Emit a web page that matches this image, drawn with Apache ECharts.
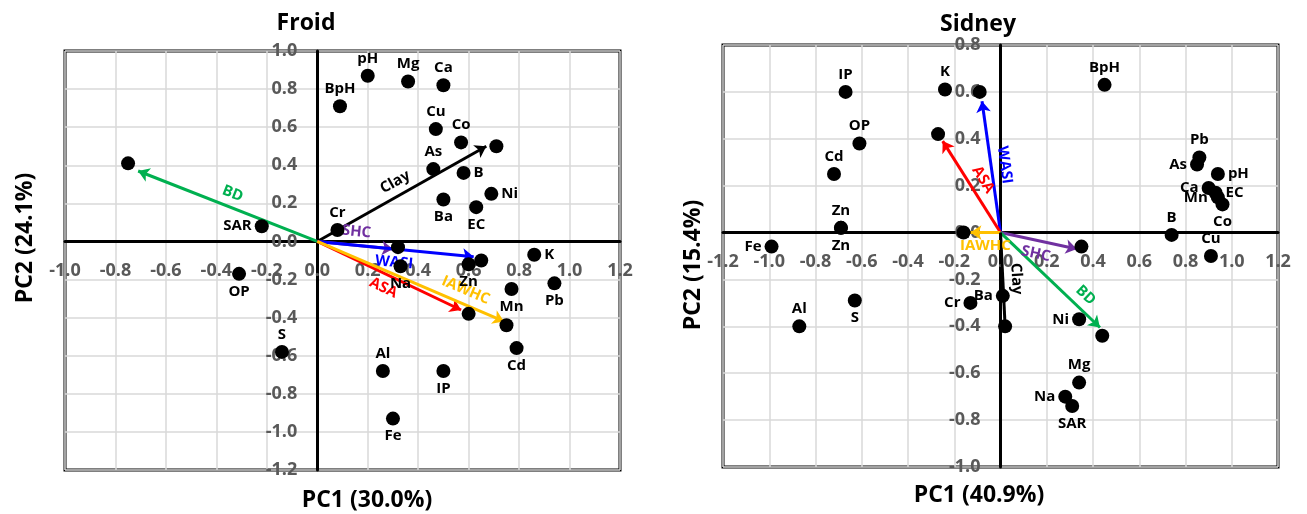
<!DOCTYPE html>
<html>
<head>
<meta charset="utf-8">
<script src="https://cdn.jsdelivr.net/npm/echarts@6/dist/echarts.min.js"></script>
<style>
  html, body { margin: 0; padding: 0; background: #fff; }
  #main { width: 1307px; height: 514px; }
</style>
</head>
<body>
<div id="main"></div>
<script>
// Froid - variable loadings (dots)
var froidNames = ['pH', 'Mg', 'Ca', 'BpH', 'Cu', 'Co', 'Clay', 'As', 'B', 'Ni', 'Ba', 'EC', 'Cr', 'SAR', 'BD',
  'SHC', 'WASI', 'Zn', 'Na', 'K', 'Mn', 'Pb', 'ASA', 'IAWHC', 'Cd', 'Al', 'IP', 'Fe', 'OP', 'S'];
var froidPC1 = [0.20, 0.36, 0.50, 0.09, 0.47, 0.57, 0.71, 0.46, 0.58, 0.69, 0.50, 0.63, 0.08, -0.22, -0.75,
  0.32, 0.65, 0.60, 0.33, 0.86, 0.77, 0.94, 0.60, 0.75, 0.79, 0.26, 0.50, 0.30, -0.31, -0.14];
var froidPC2 = [0.87, 0.84, 0.82, 0.71, 0.59, 0.52, 0.50, 0.38, 0.36, 0.25, 0.22, 0.18, 0.06, 0.08, 0.41,
  -0.03, -0.10, -0.12, -0.13, -0.07, -0.25, -0.22, -0.38, -0.44, -0.56, -0.68, -0.68, -0.93, -0.17, -0.58];

// Froid - arrows (tips)
var froidVectors = ['BD', 'Clay', 'SHC', 'WASI', 'ASA', 'IAWHC'];
var froidVecPC1 = [-0.71, 0.67, 0.30, 0.62, 0.57, 0.74];
var froidVecPC2 = [0.37, 0.50, -0.04, -0.08, -0.36, -0.42];

// Sidney - variable loadings (dots)
var sidneyNames = ['IP', 'K', 'WASI', 'OP', 'ASA', 'Cd', 'Zn', 'Zn', 'Fe', 'IAWHC', 'BpH', 'Pb', 'As', 'pH', 'Ca',
  'EC', 'Mn', 'Co', 'B', 'Cu', 'SHC', 'Al', 'S', 'Cr', 'Ba', 'Clay', 'Ni', 'BD', 'Mg', 'Na', 'SAR'];
var sidneyPC1 = [-0.67, -0.24, -0.09, -0.61, -0.27, -0.72, -0.69, -0.69, -0.99, -0.16, 0.45, 0.86, 0.85, 0.94, 0.90,
  0.93, 0.94, 0.96, 0.74, 0.91, 0.35, -0.87, -0.63, -0.13, 0.01, 0.02, 0.34, 0.44, 0.34, 0.28, 0.31];
var sidneyPC2 = [0.60, 0.61, 0.60, 0.38, 0.42, 0.25, 0.02, 0.02, -0.06, 0.00, 0.63, 0.32, 0.29, 0.25, 0.19,
  0.17, 0.15, 0.12, -0.01, -0.10, -0.06, -0.40, -0.29, -0.30, -0.27, -0.40, -0.37, -0.44, -0.64, -0.70, -0.74];

// Sidney - arrows (tips)
var sidneyVectors = ['WASI', 'ASA', 'IAWHC', 'SHC', 'BD', 'Clay'];
var sidneyVecPC1 = [-0.08, -0.25, -0.13, 0.33, 0.43, 0.02];
var sidneyVecPC2 = [0.56, 0.39, 0.00, -0.07, -0.405, -0.40];

// tick labels
var froidXTicks = [-1.0, -0.8, -0.6, -0.4, -0.2, 0.0, 0.2, 0.4, 0.6, 0.8, 1.0, 1.2];
var froidYTicks = [-1.2, -1.0, -0.8, -0.6, -0.4, -0.2, 0.0, 0.2, 0.4, 0.6, 0.8, 1.0];
var sidneyXTicks = [-1.2, -1.0, -0.8, -0.6, -0.4, -0.2, 0.0, 0.2, 0.4, 0.6, 0.8, 1.0, 1.2];
var sidneyYTicks = [-1.0, -0.8, -0.6, -0.4, -0.2, 0.0, 0.2, 0.4, 0.6, 0.8];

var vecColors = {
  BD: '#00B050', Clay: '#000000', SHC: '#7030A0',
  WASI: '#0000FF', ASA: '#FF0000', IAWHC: '#FFC000'
};

// where each dot label sits ('none' = arrow end, no label)
var froidLabelPos = {
  pH: 'top', Mg: 'top', Ca: 'top', BpH: 'top', Cu: 'top', Co: 'top', Clay: 'none', As: 'top',
  B: 'right', Ni: 'right', Ba: 'bottom', EC: 'bottom', Cr: 'top', SAR: 'left', BD: 'none',
  SHC: 'none', WASI: 'none', Zn: 'bottom', Na: 'bottom', K: 'right', Mn: 'bottom', Pb: 'bottom',
  ASA: 'none', IAWHC: 'none', Cd: 'bottom', Al: 'top', IP: 'bottom', Fe: 'bottom', OP: 'bottom', S: 'top'
};
var sidneyLabelPos = ['top', 'top', 'none', 'top', 'none', 'top', 'top', 'bottom', 'left', 'none', 'top', 'top',
  'left', 'right', 'left', 'right', 'left', 'bottom', 'top', 'top', 'none', 'top', 'bottom', 'left', 'left',
  'none', 'left', 'none', 'top', 'left', 'bottom'];

var froidVecLabel = ['insideMiddleTop', 'insideMiddleTop', 'insideMiddleTop', 'insideMiddleBottom', 'insideMiddleBottom', 'insideEndTop'];
var sidneyVecLabel = ['insideMiddleTop', 'insideMiddleTop', 'insideMiddleBottom', 'insideMiddleBottom', 'insideEndTop', 'insideMiddleTop'];
// arrowheads hidden behind dots in the original
var sidneyNoHead = ['Clay'];

var FONT = '"Open Sans", "Noto Sans", sans-serif';

var grids = [
  { left: 65, top: 51, width: 555, height: 419 },
  { left: 723, top: 45, width: 555, height: 422 }
];

function fmt(v) {
  if (Math.abs(v) < 1e-9) return '0.0';
  return v.toFixed(1);
}

// axis drawn through zero: shift it in from the grid edge
function zeroOffset(ticks, size) {
  var min = ticks[0], max = ticks[ticks.length - 1];
  return -(0 - min) / (max - min) * size;
}

function makeAxis(ticks, idx, offset) {
  return {
    type: 'value',
    gridIndex: idx,
    min: ticks[0],
    max: ticks[ticks.length - 1],
    interval: 0.2,
    offset: offset,
    axisLine: { onZero: false, lineStyle: { color: '#000', width: 3 } },
    axisTick: { show: false },
    axisLabel: {
      margin: 20,
      color: '#595959',
      fontSize: 18,
      fontWeight: 'bold',
      fontFamily: FONT,
      formatter: fmt,
      showMinLabel: true,
      showMaxLabel: true
    },
    splitLine: { lineStyle: { color: '#d9d9d9', width: 1.5 } }
  };
}

function dotData(names, xs, ys, posOf) {
  return names.map(function (n, i) {
    var pos = posOf(n, i);
    return {
      name: n,
      value: [xs[i], ys[i]],
      label: pos === 'none' ? { show: false } : { show: true, position: pos }
    };
  });
}

function vecData(names, xs, ys, labelPos) {
  return names.map(function (n, i) {
    var label = { show: true, position: labelPos[i], color: vecColors[n], formatter: n };
    if (labelPos[i] === 'insideEndTop') label.distance = [22, 6];
    return {
      name: n,
      coords: [[0, 0], [xs[i], ys[i]]],
      lineStyle: { color: vecColors[n] },
      label: label
    };
  });
}

function vecSeries(data, idx, head) {
  return {
    type: 'lines',
    coordinateSystem: 'cartesian2d',
    xAxisIndex: idx,
    yAxisIndex: idx,
    symbol: ['none', head ? 'arrow' : 'none'],
    symbolSize: 11,
    z: 4,
    lineStyle: { width: 3, opacity: 1 },
    label: {
      fontSize: 15,
      fontWeight: 'bold',
      fontFamily: FONT,
      distance: 6
    },
    emphasis: { disabled: true },
    data: data
  };
}

function dotSeries(data, idx) {
  return {
    type: 'scatter',
    xAxisIndex: idx,
    yAxisIndex: idx,
    symbolSize: 14,
    itemStyle: { color: '#000', opacity: 1 },
    z: 5,
    label: {
      formatter: '{b}',
      color: '#000',
      fontSize: 15,
      fontWeight: 'bold',
      fontFamily: FONT,
      distance: 3
    },
    emphasis: { disabled: true },
    data: data
  };
}

function textEl(text, x, y, rot) {
  return {
    type: 'text',
    x: x,
    y: y,
    rotation: rot || 0,
    style: {
      text: text,
      fill: '#000',
      font: 'bold 23px ' + FONT,
      align: 'center',
      verticalAlign: 'middle'
    }
  };
}

var chart = echarts.init(document.getElementById('main'), null, { renderer: 'canvas' });

var froidVecs = vecData(froidVectors, froidVecPC1, froidVecPC2, froidVecLabel);
var sidneyVecs = vecData(sidneyVectors, sidneyVecPC1, sidneyVecPC2, sidneyVecLabel);

var option = {
  backgroundColor: '#fff',
  animation: false,
  grid: grids.map(function (g) {
    return { left: g.left, top: g.top, width: g.width, height: g.height, show: true, borderColor: '#000', borderWidth: 3 };
  }),
  xAxis: [
    makeAxis(froidXTicks, 0, zeroOffset(froidYTicks, grids[0].height)),
    makeAxis(sidneyXTicks, 1, zeroOffset(sidneyYTicks, grids[1].height))
  ],
  yAxis: [
    makeAxis(froidYTicks, 0, zeroOffset(froidXTicks, grids[0].width)),
    makeAxis(sidneyYTicks, 1, zeroOffset(sidneyXTicks, grids[1].width))
  ],
  graphic: [
    textEl('Froid', 306, 23),
    textEl('Sidney', 978, 24),
    textEl('PC1 (30.0%)', 367, 500),
    textEl('PC1 (40.9%)', 979, 495),
    textEl('PC2 (24.1%)', 25, 238, Math.PI / 2),
    textEl('PC2 (15.4%)', 693, 265, Math.PI / 2)
  ],
  series: [
    vecSeries(froidVecs, 0, true),
    dotSeries(dotData(froidNames, froidPC1, froidPC2, function (n) { return froidLabelPos[n]; }), 0),
    vecSeries(sidneyVecs.filter(function (d) { return sidneyNoHead.indexOf(d.name) < 0; }), 1, true),
    vecSeries(sidneyVecs.filter(function (d) { return sidneyNoHead.indexOf(d.name) >= 0; }), 1, false),
    dotSeries(dotData(sidneyNames, sidneyPC1, sidneyPC2, function (n, i) { return sidneyLabelPos[i]; }), 1)
  ]
};

chart.setOption(option);
</script>
</body>
</html>
